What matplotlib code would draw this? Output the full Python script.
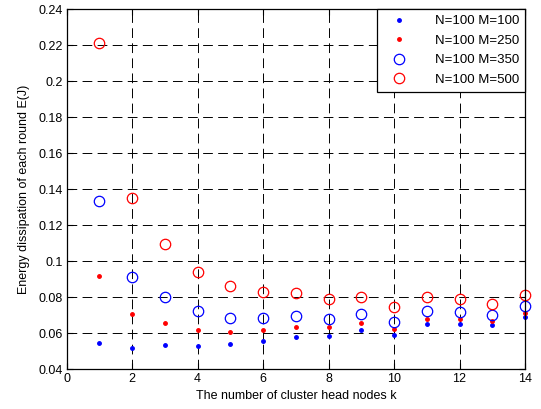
import matplotlib
matplotlib.use("Agg")
import matplotlib.pyplot as plt
from matplotlib.ticker import FuncFormatter

plt.rcParams["font.family"] = ["Liberation Sans", "DejaVu Sans"]

# cluster head count k and energy per round (J)
k = [1, 2, 3, 4, 5, 6, 7, 8, 9, 10, 11, 12, 13, 14]
e_m100 = [0.0545, 0.0521, 0.0533, 0.0527, 0.0538, 0.0557, 0.0581, 0.0587,
          0.0617, 0.0593, 0.0651, 0.0651, 0.0645, 0.0692]
e_m250 = [0.0917, 0.0705, 0.0658, 0.0617, 0.0609, 0.0617, 0.0634, 0.0634,
          0.0658, 0.0622, 0.0682, 0.0682, 0.0667, 0.0714]
e_m350 = [0.1337, 0.0911, 0.0800, 0.0724, 0.0686, 0.0686, 0.0694, 0.0681,
          0.0705, 0.0664, 0.0722, 0.0716, 0.0699, 0.0752]
e_m500 = [0.2214, 0.1350, 0.1097, 0.0941, 0.0864, 0.0831, 0.0823, 0.0793,
          0.0804, 0.0746, 0.0804, 0.0788, 0.0763, 0.0812]
labels = ["N=100 M=100", "N=100 M=250", "N=100 M=350", "N=100 M=500"]

fig = plt.figure(figsize=(5.41, 4.09), dpi=100)
ax = fig.add_axes([0.1233, 0.097, 0.8471, 0.8805])

# markers at k=14 sit on the right spine and are drawn whole, as in the original
ax.plot(k, e_m100, ".", color="#0000ff", markersize=5, label=labels[0], clip_on=False)
ax.plot(k, e_m250, ".", color="#ff0000", markersize=5, label=labels[1], clip_on=False)
ax.plot(k, e_m350, "o", color="#0000ff", markerfacecolor="none",
        markersize=7.5, markeredgewidth=0.9, label=labels[2], clip_on=False)
ax.plot(k, e_m500, "o", color="#ff0000", markerfacecolor="none",
        markersize=7.5, markeredgewidth=0.9, label=labels[3], clip_on=False)

ax.set_xlim(0, 14)
ax.set_ylim(0.04, 0.24)
ax.set_xticks(range(0, 15, 2))
ax.set_yticks([0.04 + 0.02 * i for i in range(11)])
ax.yaxis.set_major_formatter(FuncFormatter(lambda v, _: f"{v:.2f}".rstrip("0")))
ax.tick_params(direction="in", top=True, right=True, labelsize=9, length=4,
               width=0.8, pad=3)
for s in ax.spines.values():
    s.set_linewidth(0.9)

ax.grid(True, color="black", linestyle=(0, (10, 5.5)), linewidth=0.7)
ax.set_xlabel("The number of cluster head nodes k", fontsize=9, labelpad=3)
ax.set_ylabel("Energy dissipation of each round E(J)", fontsize=9, labelpad=6)

leg = ax.legend(loc="upper right", fontsize=9.5, fancybox=False, framealpha=1,
                edgecolor="black", borderaxespad=0, handletextpad=1.5,
                handlelength=2.4, labelspacing=0.55, borderpad=0.45)
leg.get_frame().set_linewidth(0.9)
leg.set_zorder(5)

fig.savefig("out.png", dpi=100)
